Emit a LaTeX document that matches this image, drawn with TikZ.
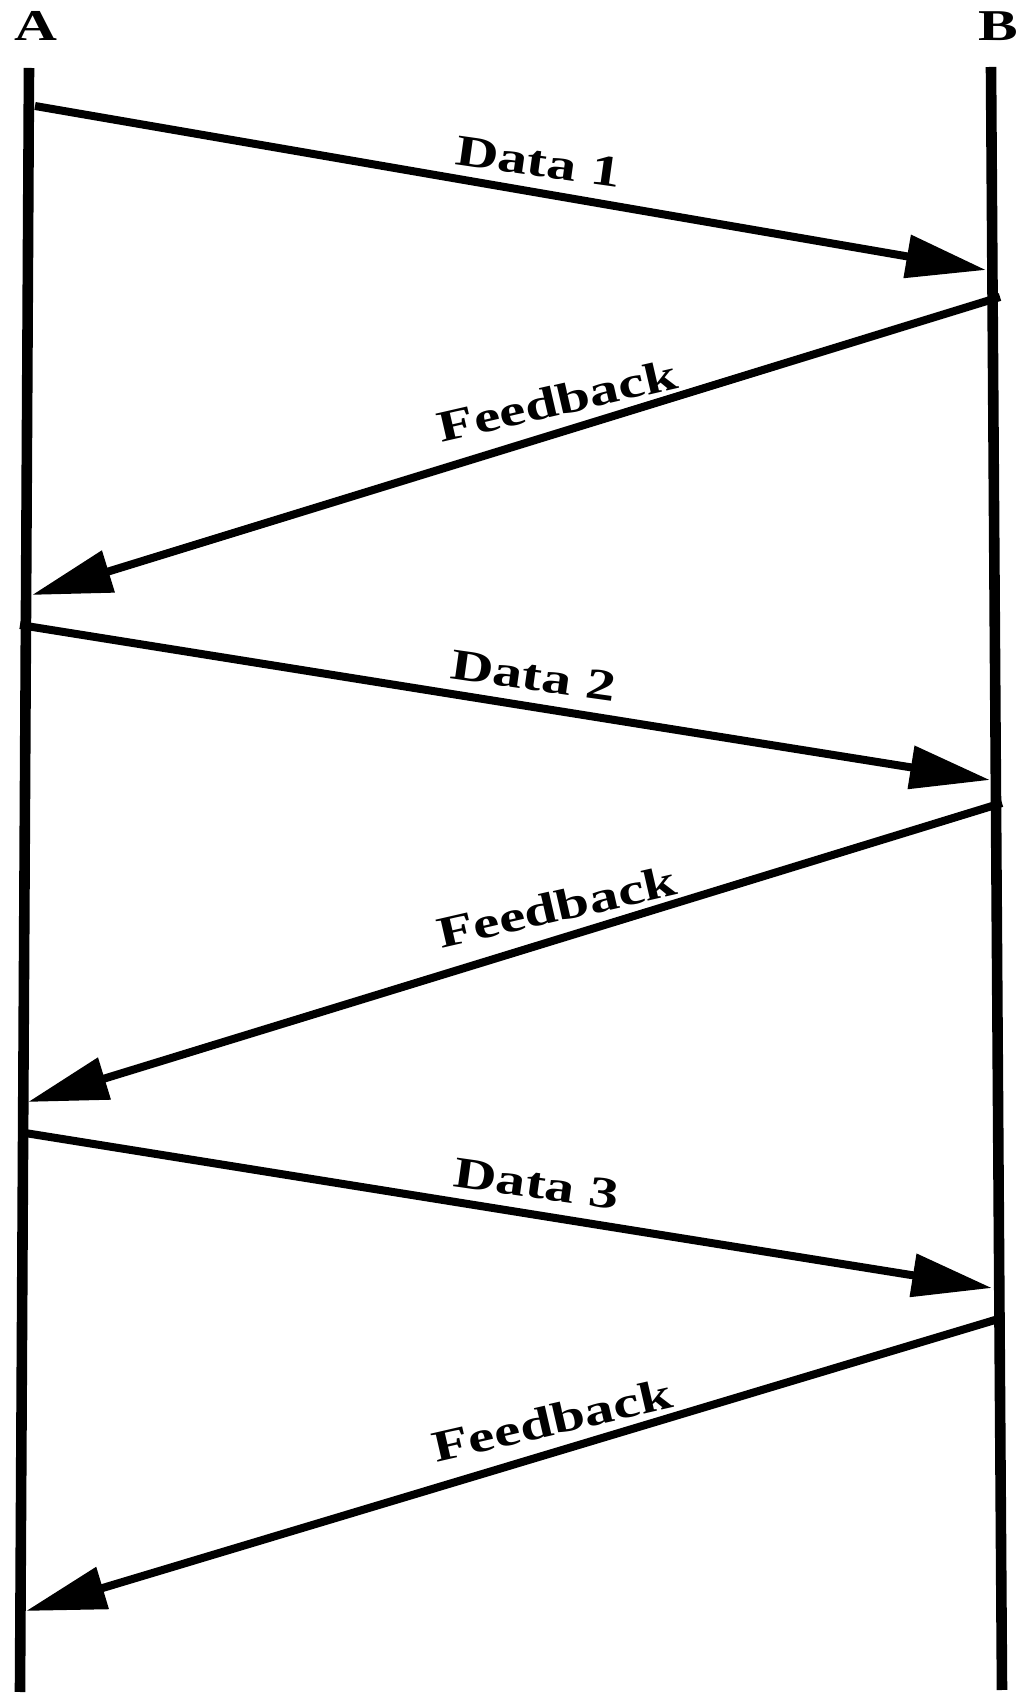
\documentclass[tikz,border=0pt]{standalone}
\usepackage{fontspec}
\usepackage{tikz}
\usetikzlibrary{arrows.meta}
\newfontfamily\lblfont[FakeStretch=1.35]{Liberation Serif}
\tikzset{
  lifeline/.style={line width=5.3pt,black},
  msg/.style={line width=4pt,black,-{Triangle[length=40pt,width=21pt]}},
  lbl/.style={font=\lblfont\fontsize{22pt}{26pt}\bfseries,inner sep=6pt,anchor=south},
}

\begin{document}
\begin{tikzpicture}[x=0.5pt,y=0.5pt]
    \useasboundingbox (0,0) rectangle (1024,1699);
    \coordinate (Atop) at (29,1631);
    \coordinate (Abot) at (20,7);
    \coordinate (Btop) at (991,1632);
    \coordinate (Bbot) at (1002,9);
    \coordinate (d1s) at (35,1593);
    \coordinate (d1e) at (986,1429);
    \coordinate (f1s) at (1000,1402);
    \coordinate (f1e) at (32,1104);
    \coordinate (d2s) at (20,1074);
    \coordinate (d2e) at (990,919);
    \coordinate (f2s) at (1002,896);
    \coordinate (f2e) at (28,597);
    \coordinate (d3s) at (25,566);
    \coordinate (d3e) at (992,411);
    \coordinate (f3s) at (995,379);
    \coordinate (f3e) at (26,88);

    \node[lbl,anchor=center] (A) at (36,1673) {A};
    \node[lbl,anchor=center] (B) at (998,1673) {B};

    \draw[lifeline] (Atop) -- (Abot);
    \draw[lifeline] (Btop) -- (Bbot);

    \draw[msg] (d1s) -- (d1e) node[lbl,pos=.525,rotate=-8] (lab-d1) {Data 1};
    \draw[msg] (f1s) -- (f1e) node[lbl,pos=.45,rotate=13] (lab-f1) {Feedback};
    \draw[msg] (d2s) -- (d2e) node[lbl,pos=.525,rotate=-8] (lab-d2) {Data 2};
    \draw[msg] (f2s) -- (f2e) node[lbl,pos=.45,rotate=13] (lab-f2) {Feedback};
    \draw[msg] (d3s) -- (d3e) node[lbl,pos=.525,rotate=-8] (lab-d3) {Data 3};
    \draw[msg] (f3s) -- (f3e) node[lbl,pos=.45,rotate=13] (lab-f3) {Feedback};
  \end{tikzpicture}
\end{document}
